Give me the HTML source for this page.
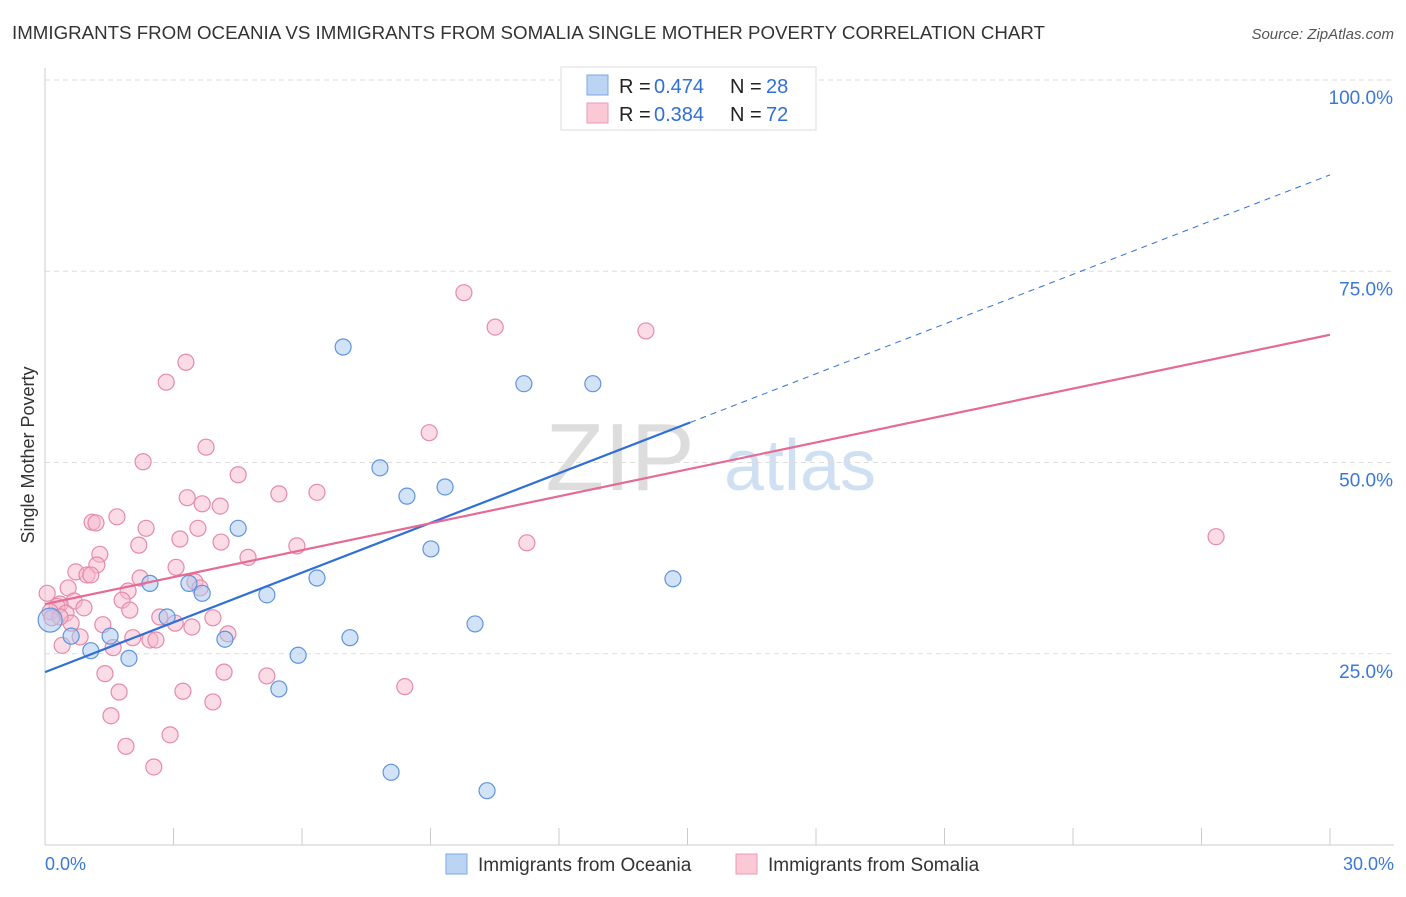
<!DOCTYPE html>
<html><head><meta charset="utf-8"><style>
body{margin:0;background:#fff;font-family:"Liberation Sans",sans-serif;}
svg text{font-family:"Liberation Sans",sans-serif;}
</style></head><body>
<svg id="c" width="1406" height="892" xmlns="http://www.w3.org/2000/svg">
<text x="12" y="39" font-size="18" fill="#333" textLength="1033" lengthAdjust="spacingAndGlyphs">IMMIGRANTS FROM OCEANIA VS IMMIGRANTS FROM SOMALIA SINGLE MOTHER POVERTY CORRELATION CHART</text>
<text x="1394" y="39" font-size="15" fill="#555" font-style="italic" text-anchor="end">Source: ZipAtlas.com</text>
<text x="620" y="490" font-size="96" fill="#ddd" font-family="Liberation Serif" text-anchor="middle">ZIP</text>
<text x="800" y="490" font-size="72" fill="#cfe0f3" text-anchor="middle">atlas</text>
<g id="grid"></g><g id="axes"></g><g id="pts"></g><g id="lines"></g>
<text transform="translate(34,455) rotate(-90)" font-size="18" fill="#333" text-anchor="middle">Single Mother Poverty</text>
<g>
<rect x="561" y="67" width="255" height="63" fill="#fff" stroke="#ddd"/>
<rect x="587" y="75" width="21" height="20" fill="#bcd4f4" stroke="#7aa8e6"/>
<rect x="587" y="103" width="21" height="20" fill="#fbc8d6" stroke="#eb9ab5"/>
<text x="619" y="93" font-size="20" fill="#222">R =</text>
<text x="654" y="93" font-size="20" fill="#2f6fd6">0.474</text>
<text x="730" y="93" font-size="20" fill="#222">N =</text>
<text x="766" y="93" font-size="20" fill="#2f6fd6">28</text>
<text x="619" y="121" font-size="20" fill="#222">R =</text>
<text x="654" y="121" font-size="20" fill="#2f6fd6">0.384</text>
<text x="730" y="121" font-size="20" fill="#222">N =</text>
<text x="766" y="121" font-size="20" fill="#2f6fd6">72</text>
</g>
<g>
<rect x="446" y="854" width="21" height="20" fill="#bcd4f4" stroke="#7aa8e6"/>
<text x="478" y="871" font-size="19" fill="#333">Immigrants from Oceania</text>
<rect x="736" y="854" width="21" height="20" fill="#fbc8d6" stroke="#eb9ab5"/>
<text x="768" y="871" font-size="19" fill="#333">Immigrants from Somalia</text>
</g>
</svg>
<script>
const blueX=[13.70,6.96,11.18,12.79,7.82,8.45,9.34,4.51,9.01,2.45,3.36,3.67,5.18,6.35,14.66,2.85,10.04,1.52,0.61,4.20,7.12,1.07,1.96,5.91,5.46,8.08,10.32,0.12];
const blueY=[100.0,65.1,60.3,60.3,49.3,45.6,46.8,41.4,38.7,34.2,34.2,32.9,32.7,34.9,34.8,29.8,28.9,27.3,27.3,26.9,27.1,25.4,24.4,24.8,20.4,9.5,7.1,29.4];
const pinkX=[9.78,10.51,14.03,3.29,2.83,3.76,8.97,2.29,4.51,6.35,5.46,3.32,3.67,4.09,1.68,1.10,1.19,2.36,3.57,3.15,4.11,5.88,2.19,11.25,27.34,1.28,4.74,1.21,3.06,0.72,0.98,1.07,2.22,3.50,3.62,1.94,0.54,0.05,1.80,0.68,0.35,0.28,0.91,1.98,0.12,0.49,2.68,3.92,3.04,0.61,1.35,3.43,4.27,2.05,2.45,2.59,0.82,1.59,0.40,4.18,1.40,5.18,8.40,1.73,3.22,3.92,1.54,1.89,2.92,2.54,0.35,0.16];
const pinkY=[72.2,67.7,67.2,63.1,60.5,52.0,53.9,50.1,48.4,46.1,45.9,45.4,44.6,44.3,42.9,42.2,42.1,41.4,41.4,40.0,39.6,39.1,39.2,39.5,40.3,38.0,37.6,36.6,36.3,35.7,35.3,35.3,34.9,34.4,33.6,33.2,33.6,32.9,32.0,31.9,31.5,31.2,31.0,30.7,30.5,30.3,29.8,29.7,29.0,29.0,28.8,28.5,27.6,27.1,26.8,26.8,27.2,25.8,26.1,22.6,22.4,22.1,20.7,20.0,20.1,18.7,16.9,12.9,14.4,10.2,29.8,29.7];
const blueTrend=[22.6,87.6]; // y at x=0 and x=30
const pinkTrend=[31.5,66.7];
const yTicks=[25,50,75,100];
const xTickLabels=["0.0%","30.0%"];
const NS="http://www.w3.org/2000/svg";
const sx=v=>45+v/30*1285, sy=v=>845-v*7.65;
function mk(p,t,a){const e=document.createElementNS(NS,t);for(const k in a)e.setAttribute(k,a[k]);p.appendChild(e);return e;}
const grid=document.getElementById('grid'),axes=document.getElementById('axes'),pts=document.getElementById('pts'),lines=document.getElementById('lines');
yTicks.forEach(t=>{
 const l=mk(grid,'line',{x1:45,x2:1394,y1:sy(t),y2:sy(t),stroke:'#ddd','stroke-dasharray':'5,4'});
 
 
 const tx=mk(grid,'text',{x:1393,y:sy(t)+24,'font-size':19,fill:'#3a78d8','text-anchor':'end'});
 tx.textContent=t.toFixed(1)+'%';
 
 
});
const xa=mk(axes,'line',{x1:45,x2:1394,y1:845,y2:845,stroke:'#ccc'});


const ya=mk(axes,'line',{x1:45,x2:45,y1:68,y2:845,stroke:'#ccc'});


for(let i=0;i<=10;i++){const tk=mk(axes,'line',{x1:sx(i*3),x2:sx(i*3),y1:828,y2:845,stroke:'#ccc'});
 
 }
[[0,'start',45],[30,'end',1394]].forEach((d,i)=>{const t=mk(axes,'text',{x:d[2],y:870,'font-size':18,fill:'#3a78d8','text-anchor':d[1]});t.textContent=xTickLabels[i];
 
 });
function dots(X,Y,f,s,n){X.forEach((x,i)=>{const c=mk(pts,'circle',{cx:sx(x),cy:sy(Y[i]),r:(n==='oceania'&&i===X.length-1)?12:8,fill:f,'fill-opacity':0.5,stroke:s,'stroke-width':1.2});
 
 });}
dots(pinkX,pinkY,'#f8b8cc','#e58aab','somalia');
dots(blueX,blueY,'#a8c8f0','#5f94dc','oceania');
const bm=15.06;
const b1=mk(lines,'line',{x1:sx(0),y1:sy(blueTrend[0]),x2:sx(bm),y2:sy(blueTrend[0]+(blueTrend[1]-blueTrend[0])*bm/30),stroke:'#2f6fd6','stroke-width':2.2});


const b2=mk(lines,'line',{x1:sx(bm),y1:sy(blueTrend[0]+(blueTrend[1]-blueTrend[0])*bm/30),x2:sx(30),y2:sy(blueTrend[1]),stroke:'#2f6fd6','stroke-width':1,'stroke-dasharray':'6,5'});


const p1=mk(lines,'line',{x1:sx(0),y1:sy(pinkTrend[0]),x2:sx(30),y2:sy(pinkTrend[1]),stroke:'#e56a95','stroke-width':2.2});


</script>
</body></html>
